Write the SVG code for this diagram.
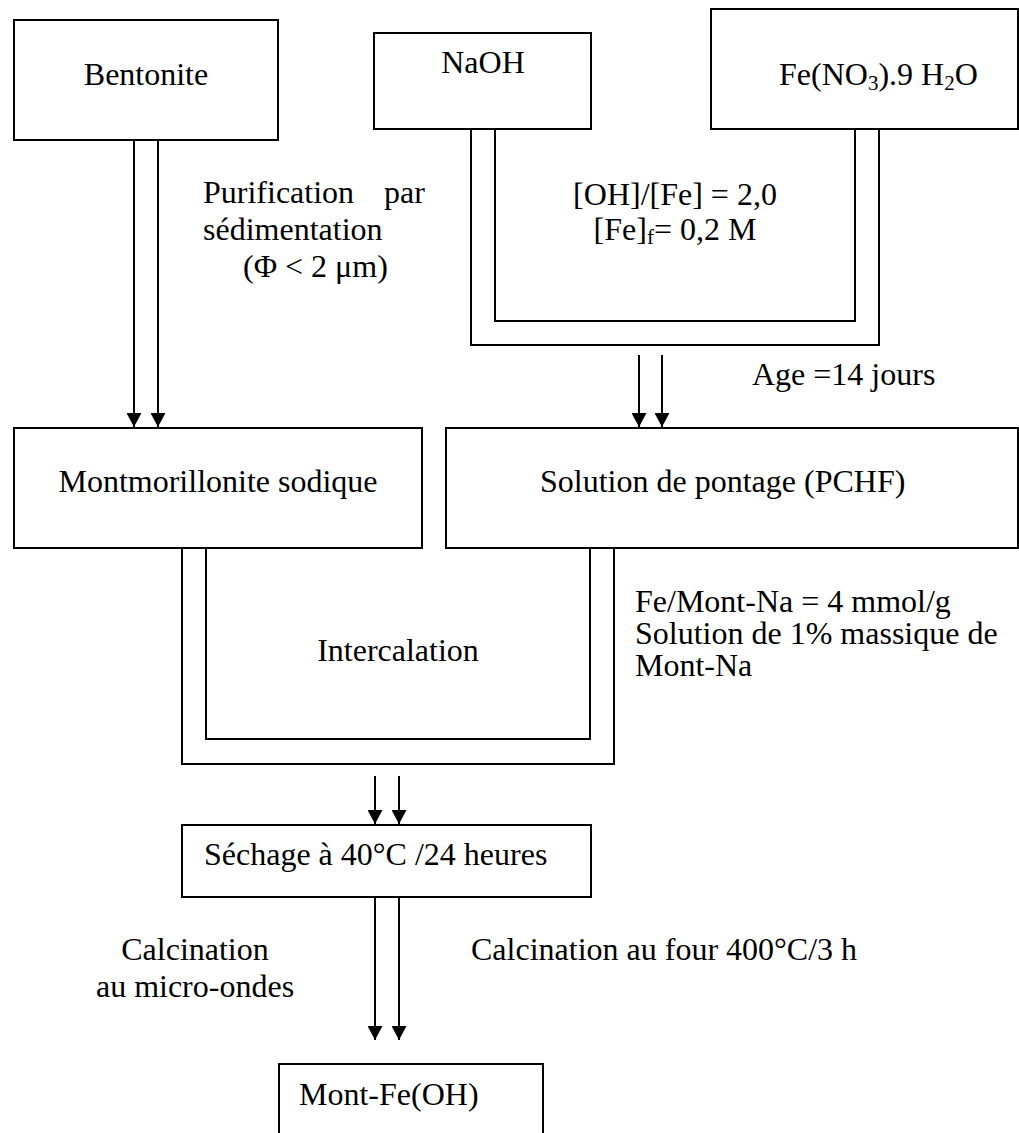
<svg xmlns="http://www.w3.org/2000/svg" width="1019" height="1133" viewBox="0 0 1019 1133">
<style>
  .box { fill: #fff; stroke: #000; stroke-width: 2; }
  .ln { fill: none; stroke: #000; stroke-width: 2; }
  .arr { fill: none; stroke: #000; stroke-width: 2; marker-end: url(#ah); }
  text { font-family: "Liberation Serif", "Times New Roman", serif; font-size: 32px; fill: #000; }
  .mid { text-anchor: middle; }
</style>
<defs>
  <marker id="ah" viewBox="0 0 14 15" refX="14" refY="7.5" markerWidth="14" markerHeight="15" markerUnits="userSpaceOnUse" orient="auto">
    <path d="M0,0 L14,7.5 L0,15 Z" fill="#000"/>
  </marker>
</defs>
<rect width="1019" height="1133" fill="#fff"/>

<g id="connectors">
  <!-- Bentonite to Montmorillonite -->
  <line class="arr" x1="134" y1="140" x2="134" y2="427"/>
  <line class="arr" x1="158" y1="140" x2="158" y2="427"/>
  <!-- NaOH + Fe U-join -->
  <path class="ln" d="M471,129 V345 H879 V129"/>
  <path class="ln" d="M495,129 V321 H855 V129"/>
  <line class="arr" x1="639" y1="355" x2="639" y2="427"/>
  <line class="arr" x1="662" y1="355" x2="662" y2="427"/>
  <!-- Intercalation U-join -->
  <path class="ln" d="M182,548 V764 H614 V548"/>
  <path class="ln" d="M206,548 V739 H590 V548"/>
  <line class="arr" x1="375" y1="776" x2="375" y2="824"/>
  <line class="arr" x1="399" y1="776" x2="399" y2="824"/>
  <!-- Sechage to Mont-Fe -->
  <line class="arr" x1="375" y1="897" x2="375" y2="1040"/>
  <line class="arr" x1="399" y1="897" x2="399" y2="1040"/>
</g>

<g id="bentonite">
  <rect class="box" x="14" y="20" width="264" height="120"/>
  <text class="mid" x="146" y="85">Bentonite</text>
</g>
<g id="naoh">
  <rect class="box" x="374" y="33" width="217" height="96"/>
  <text class="mid" x="483" y="73">NaOH</text>
</g>
<g id="fe-nitrate">
  <rect class="box" x="711" y="9" width="307" height="120"/>
  <text x="779" y="85">Fe(NO<tspan font-size="21" dy="5">3</tspan><tspan dy="-5">).9 H</tspan><tspan font-size="21" dy="5">2</tspan><tspan dy="-5">O</tspan></text>
</g>
<g id="montmorillonite">
  <rect class="box" x="14" y="428" width="408" height="120"/>
  <text class="mid" x="218" y="492">Montmorillonite sodique</text>
</g>
<g id="solution-pontage">
  <rect class="box" x="446" y="428" width="572" height="120"/>
  <text x="540" y="492">Solution de pontage (PCHF)</text>
</g>
<g id="sechage">
  <rect class="box" x="182" y="825" width="409" height="72"/>
  <text x="204" y="865">Séchage à 40°C /24 heures</text>
</g>
<g id="mont-fe">
  <rect class="box" x="279" y="1064" width="264" height="80"/>
  <text x="299" y="1105">Mont-Fe(OH)</text>
</g>

<g id="labels">
  <text x="203" y="203">Purification</text>
  <text x="384" y="203">par</text>
  <text x="203" y="240">sédimentation</text>
  <text x="243" y="277">(Φ &lt; 2 μm)</text>

  <text class="mid" x="675" y="205">[OH]/[Fe] = 2,0</text>
  <text class="mid" x="675" y="240">[Fe]<tspan font-size="21" dy="4">f</tspan><tspan dy="-4">= 0,2 M</tspan></text>

  <text x="752" y="385">Age =14 jours</text>

  <text x="635" y="612">Fe/Mont-Na = 4 mmol/g</text>
  <text x="635" y="644">Solution de 1% massique de</text>
  <text x="635" y="676">Mont-Na</text>

  <text class="mid" x="398" y="661">Intercalation</text>

  <text class="mid" x="195" y="960">Calcination</text>
  <text class="mid" x="195" y="997">au micro-ondes</text>
  <text x="471" y="960">Calcination au four 400°C/3 h</text>
</g>
</svg>
